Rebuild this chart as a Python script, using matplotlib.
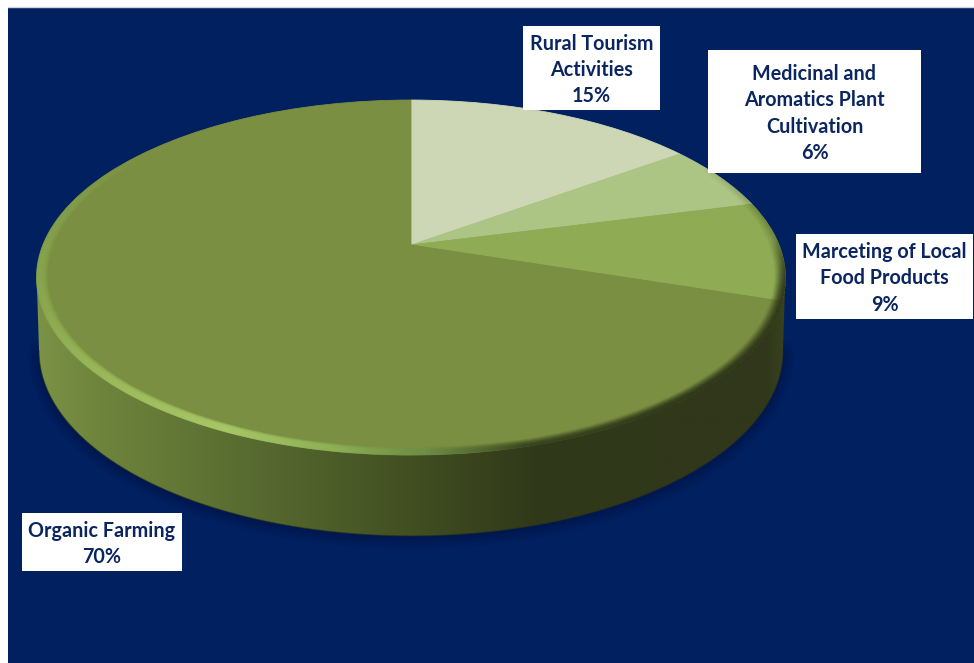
import numpy as np
import matplotlib
matplotlib.use('Agg')
import matplotlib.pyplot as plt
from matplotlib.collections import LineCollection
from matplotlib.colors import LinearSegmentedColormap
from matplotlib.patches import PathPatch, Rectangle
from matplotlib.path import Path
from matplotlib.transforms import Transform

names = ['Rural Tourism\nActivities', 'Medicinal and\nAromatics Plant\nCultivation',
         'Marceting of Local\nFood Products', 'Organic Farming']
shares = [15, 6, 9, 70]
slice_colors = ['#cdd7b5', '#adc584', '#8fac55', '#7b8f42']

# label boxes in pixels: left, top, right, bottom
label_boxes = [(523, 26, 660, 110), (708, 50, 921, 173), (796, 234, 973, 319), (22, 513, 182, 571)]

navy = '#00205f'
text_navy = '#0a2560'


class DiscProjection(Transform):
    """Tilted view of the unit circle, the near side comes out larger."""
    input_dims = 2
    output_dims = 2

    def __init__(self, cx, cy, rx, ry, k):
        super().__init__()
        self.cx, self.cy, self.rx, self.ry, self.k = cx, cy, rx, ry, k

    def transform_non_affine(self, values):
        values = np.asarray(values, dtype=float)
        w = 1 + self.k * values[:, 1]
        return np.column_stack([self.cx + self.rx * values[:, 0] / w,
                                self.cy - self.ry * values[:, 1] / w])


top_disc = DiscProjection(411, 245, 368, 171.5, 0.183)
base_disc = DiscProjection(411, 317, 365.7, 178.8, 0.183)

fig = plt.figure(figsize=(9.74, 6.63), dpi=100, facecolor='white')
ax = fig.add_axes([0, 0, 1, 1])

# pie sets up its own limits, so the pixel frame is put back afterwards
wedges, _ = ax.pie(shares, colors=slice_colors, startangle=90, counterclock=False, radius=1)
ax.set_aspect('auto')
ax.set_xlim(0, 974)
ax.set_ylim(663, 0)
ax.axis('off')

ax.add_patch(Rectangle((8, 7), 966, 656, facecolor=navy, edgecolor='none', zorder=0))
ax.plot([8, 974], [6.5, 6.5], color='#d4d4d4', lw=1, zorder=0)

# outer wall of the disc: lower arc of the base joined to lower arc of the top
t = np.radians(np.linspace(190.5, 349.5, 300))
arc = np.column_stack([np.cos(t), np.sin(t)])
lower = base_disc.transform_non_affine(arc)
upper = top_disc.transform_non_affine(arc[::-1])
wall_xy = np.vstack([lower, upper, lower[:1]])
wall_path = Path(wall_xy)

# soft shadow under the wall
for lw, alpha in [(16, 0.05), (11, 0.07), (7, 0.09), (3, 0.12)]:
    ax.plot(lower[:, 0], lower[:, 1] + 2, color='#000c30', lw=lw, alpha=alpha,
            solid_capstyle='round', zorder=1)

wall_cmap = LinearSegmentedColormap.from_list('wall', [
    (0.00, '#7c9246'), (0.08, '#6f853c'), (0.22, '#5f7334'), (0.38, '#4e5f2a'),
    (0.52, '#3f4c20'), (0.66, '#31391a'), (0.97, '#30371a'), (1.00, '#3a4520')])
gradient = np.linspace(0, 1, 512).reshape(1, -1)
wall_img = ax.imshow(gradient, cmap=wall_cmap, extent=(34, 790, 540, 270), aspect='auto',
                     interpolation='bilinear', zorder=2)
wall_img.set_clip_path(PathPatch(wall_path, transform=ax.transData))
ax.set_xlim(0, 974)
ax.set_ylim(663, 0)
ax.plot(lower[:, 0], lower[:, 1], color='#2b3214', lw=0.8, alpha=0.55, zorder=3)

# slices from the pie, redrawn through the tilted view
for wedge in wedges:
    wedge.set_transform(top_disc + ax.transData)
    wedge.set_edgecolor(wedge.get_facecolor())
    wedge.set_linewidth(0.6)
    wedge.set_zorder(4)

# bevel round the top: light on the near left, sinking into shadow on the right
phi = np.linspace(60, 330, 541)
phi_knots = [60, 88, 105, 140, 165, 178, 190, 205, 250, 285, 305, 330]
red = np.interp(phi, phi_knots, [0.19, 0.19, 0.19, 0.19, 0.22, 0.42, 0.56, 0.66, 0.56, 0.52, 0.50, 0.48])
green = np.interp(phi, phi_knots, [0.22, 0.22, 0.22, 0.22, 0.26, 0.56, 0.70, 0.78, 0.68, 0.64, 0.60, 0.56])
blue = np.interp(phi, phi_knots, [0.10, 0.10, 0.10, 0.10, 0.12, 0.28, 0.34, 0.40, 0.32, 0.30, 0.28, 0.26])
power = np.interp(phi, phi_knots, [0.0, 0.15, 1.0, 1.0, 0.8, 0.35, 0.8, 1.0, 0.7, 0.35, 0.12, 0.0])
light = np.interp(phi, phi_knots, [0, 0, 0, 0, 0, 1, 1, 1, 1, 1, 1, 1])

for s in np.linspace(0, 1, 20):
    r = 0.97 + 0.03 * s
    dark_profile = s ** 1.5
    light_profile = np.sin(np.pi * s * 0.72)
    alpha = np.clip(power * ((1 - light) * dark_profile + light * light_profile), 0, 1)
    points = np.radians(phi)
    ring = np.column_stack([r * np.sin(points), r * np.cos(points)])
    ring = top_disc.transform_non_affine(ring)
    segments = np.stack([ring[:-1], ring[1:]], axis=1)
    colors = np.column_stack([red[:-1], green[:-1], blue[:-1], alpha[:-1]])
    ax.add_collection(LineCollection(segments, colors=colors, linewidths=1.0,
                                     capstyle='butt', zorder=5))

for name, share, (x0, y0, x1, y1) in zip(names, shares, label_boxes):
    ax.add_patch(Rectangle((x0, y0), x1 - x0, y1 - y0, facecolor='white',
                           edgecolor='none', zorder=6))
    ax.text((x0 + x1) / 2, (y0 + y1) / 2 + 2, f'{name}\n{share}%', ha='center', va='center',
            family='Lato', fontweight='bold', fontsize=14.2, color=text_navy,
            linespacing=1.4, zorder=7)

fig.savefig('out.png', dpi=100, facecolor='white')
